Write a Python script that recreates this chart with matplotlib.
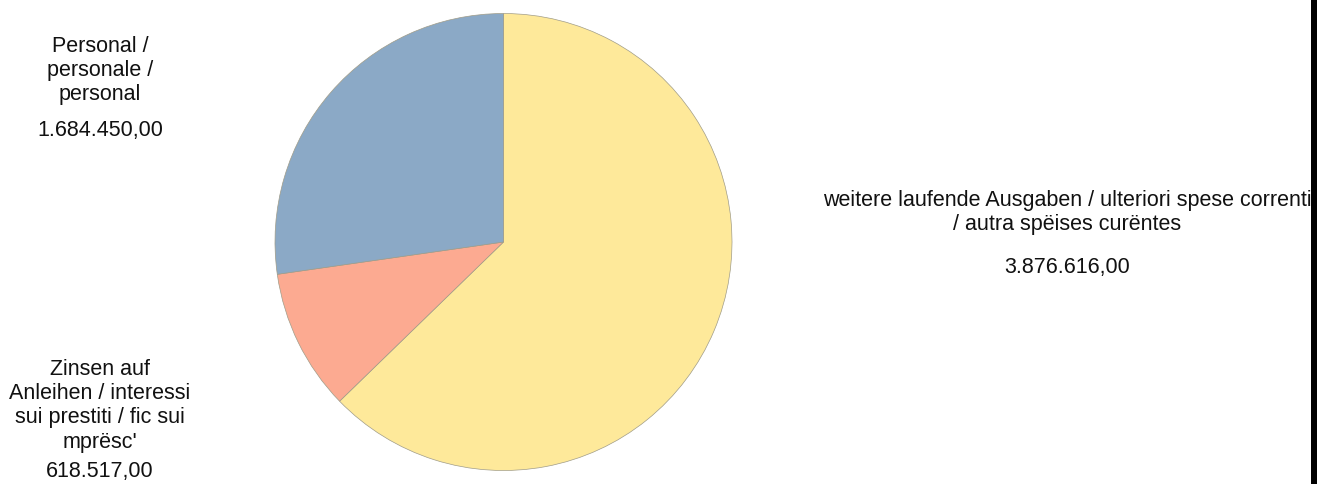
import matplotlib
matplotlib.use('Agg')
import matplotlib.pyplot as plt
from matplotlib.patches import Rectangle

# data
labels = ['weitere laufende Ausgaben / ulteriori spese correnti\n/ autra spëises curëntes',
          "Zinsen auf\nAnleihen / interessi\nsui prestiti / fic sui\nmprësc'",
          'Personal /\npersonale /\npersonal']
values = [3876616.00, 618517.00, 1684450.00]
value_labels = ['3.876.616,00', '618.517,00', '1.684.450,00']
colors = ['#FEE99A', '#FCAA91', '#8BA9C6']

W, H = 1326, 485
plt.rcParams['font.family'] = ['Liberation Sans', 'DejaVu Sans']

fig = plt.figure(figsize=(W / 100, H / 100), dpi=100)
fig.patch.set_facecolor('white')

# pie placed in pixel coordinates: centre (503.5, 243), radius 228.5
cx, cy, r = 503.5, 243, 228.5
ax = fig.add_axes([(cx - r) / W, (H - cy - r) / H, 2 * r / W, 2 * r / H])
ax.pie(values, colors=colors, startangle=90, counterclock=False,
       wedgeprops=dict(edgecolor='#a09c88', linewidth=0.5))
ax.set_xlim(-1, 1)
ax.set_ylim(-1, 1)
ax.set_aspect('equal')
ax.axis('off')

fs = 15.5
# label positions (pixel x centre, pixel y top of label, pixel y value baseline)
pos = [(1067, 190, 273), (100, 359, 477), (100, 36, 136)]
for lab, val, (px, ptop, pval) in zip(labels, value_labels, pos):
    fig.text(px / W, 1 - ptop / H, lab, ha='center', va='top', fontsize=fs,
             linespacing=1.2, color='#111111')
    fig.text(px / W, 1 - pval / H, val, ha='center', va='baseline', fontsize=fs,
             color='#111111')

# black bar at right edge
fig.patches.append(Rectangle((1311 / W, 0), 6 / W, 1, transform=fig.transFigure,
                             facecolor='black', edgecolor='none', zorder=10))

fig.savefig('out.png', dpi=100, facecolor='white')
